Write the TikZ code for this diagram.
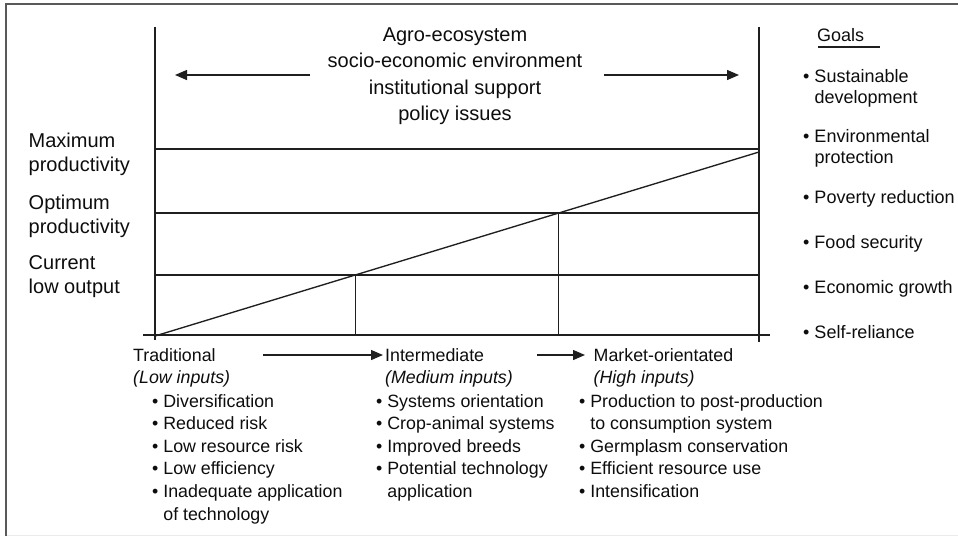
\documentclass[tikz,border=0pt]{standalone}
\usepackage{fontspec}
\setmainfont{Liberation Sans}
\usetikzlibrary{arrows.meta}
\newcommand\mystack[1]{\begin{tabular}[t]{@{}l@{}}#1\end{tabular}}
\newcommand\mycstack[1]{\begin{tabular}[t]{@{}c@{}}#1\end{tabular}}
\newcommand\mybul{\textbullet\space}
\newcommand\myind{\hphantom{\textbullet\space}}
\begin{document}
\begin{tikzpicture}[x=1pt,y=-1pt,
  ln/.style={line width=1.35pt, draw=black!88},
  framel/.style={line width=1.8pt, draw=black!65},
  arr/.style={ln, -{Triangle[length=12pt,width=10pt]}},
  lab/.style={inner sep=0pt, anchor=base west, text=black!95, font=\fontsize{20}{24}\selectfont},
  toptxt/.style={inner sep=0pt, anchor=base, text=black!95, font=\fontsize{20}{26.6}\selectfont},
  bot/.style={inner sep=0pt, anchor=base west, text=black!95, font=\fontsize{17.8}{22.6}\selectfont},
  goal/.style={inner sep=0pt, anchor=base west, text=black!95, font=\fontsize{18}{21}\selectfont}
]
\useasboundingbox (0,0) rectangle (958,536);
% frame
\coordinate (FTR) at (958,4);
\coordinate (FTL) at (6.3,4);
\coordinate (FBL) at (6.3,536);
\draw[framel] (FTR) -- (FTL) -- (FBL);
\coordinate (GBL) at (7,535.5);
\coordinate (GBR) at (958,535.5);
\draw[black!8, line width=1pt] (GBL) -- (GBR);

% grid
\coordinate (LT) at (155,27);
\coordinate (LB) at (155,340);
\coordinate (RT) at (759,27);
\coordinate (RB) at (759,342);
\coordinate (B0) at (143,335);
\coordinate (B1) at (770,335);
\coordinate (O) at (155,336);
\coordinate (P) at (759,152);
\coordinate (M1) at (155,149);
\coordinate (M2) at (759,149);
\coordinate (Q1) at (155,213);
\coordinate (Q2) at (759,213);
\coordinate (C1) at (155,275);
\coordinate (C2) at (759,275);
\draw[ln] (LT) -- (LB);
\draw[ln] (RT) -- (RB);
\draw[ln] (B0) -- (B1);
\draw[ln] (M1) -- (M2);
\draw[ln] (Q1) -- (Q2);
\draw[ln] (C1) -- (C2);
\draw[ln] (O) -- (P);
\coordinate (X1) at (intersection of O--P and C1--C2);
\coordinate (X2) at (intersection of O--P and Q1--Q2);
\draw[ln] (X1) -- (X1 |- B0);
\draw[ln] (X2) -- (X2 |- B0);

% top text and arrows
\node[toptxt] (top) at (455,41) {\mycstack{Agro-ecosystem\\socio-economic environment\\institutional support\\policy issues}};
\coordinate (AL1) at (310,75);
\coordinate (AL2) at (175,75);
\coordinate (AR1) at (604,75);
\coordinate (AR2) at (739,75);
\draw[arr] (AL1) -- (AL2);
\draw[arr] (AR1) -- (AR2);

% left labels
\node[lab] (maxp) at (28.5,147) {\mystack{Maximum\\productivity}};
\node[lab] (optp) at (28.5,209) {\mystack{Optimum\\productivity}};
\node[lab] (curp) at (28.5,269) {\mystack{Current\\low output}};

% bottom columns
\node[bot] (trad) at (133,361) {\mystack{Traditional\\\textit{(Low inputs)}}};
\node[bot] (tradl) at (152,407) {\mystack{\mybul Diversification\\\mybul Reduced risk\\\mybul Low resource risk\\\mybul Low efficiency\\\mybul Inadequate application\\\myind of technology}};
\node[bot] (inter) at (385,361) {\mystack{Intermediate\\\textit{(Medium inputs)}}};
\node[bot] (interl) at (376,407) {\mystack{\mybul Systems orientation\\\mybul Crop-animal systems\\\mybul Improved breeds\\\mybul Potential technology\\\myind application}};
\node[bot] (mark) at (593.5,361) {\mystack{Market-orientated\\\textit{(High inputs)}}};
\node[bot] (markl) at (579,407) {\mystack{\mybul Production to post-production\\\myind to consumption system\\\mybul Germplasm conservation\\\mybul Efficient resource use\\\mybul Intensification}};
\coordinate (BA1) at (263,355);
\coordinate (BA2) at (383,355);
\coordinate (BA3) at (537,355);
\coordinate (BA4) at (585,355);
\draw[arr] (BA1) -- (BA2);
\draw[arr] (BA3) -- (BA4);

% goals
\node[goal] (goals) at (817,41) {Goals};
\coordinate (GU1) at (818,47);
\coordinate (GU2) at (880,47);
\draw[ln, line width=1.1pt] (GU1) -- (GU2);
\node[goal] (g1) at (803,82) {\mystack{\mybul Sustainable\\\myind development}};
\node[goal] (g2) at (803,142) {\mystack{\mybul Environmental\\\myind protection}};
\node[goal] (g3) at (803,203) {\mybul Poverty reduction};
\node[goal] (g4) at (803,248) {\mybul Food security};
\node[goal] (g5) at (803,293) {\mybul Economic growth};
\node[goal] (g6) at (803,338) {\mybul Self-reliance};
\end{tikzpicture}
\end{document}
